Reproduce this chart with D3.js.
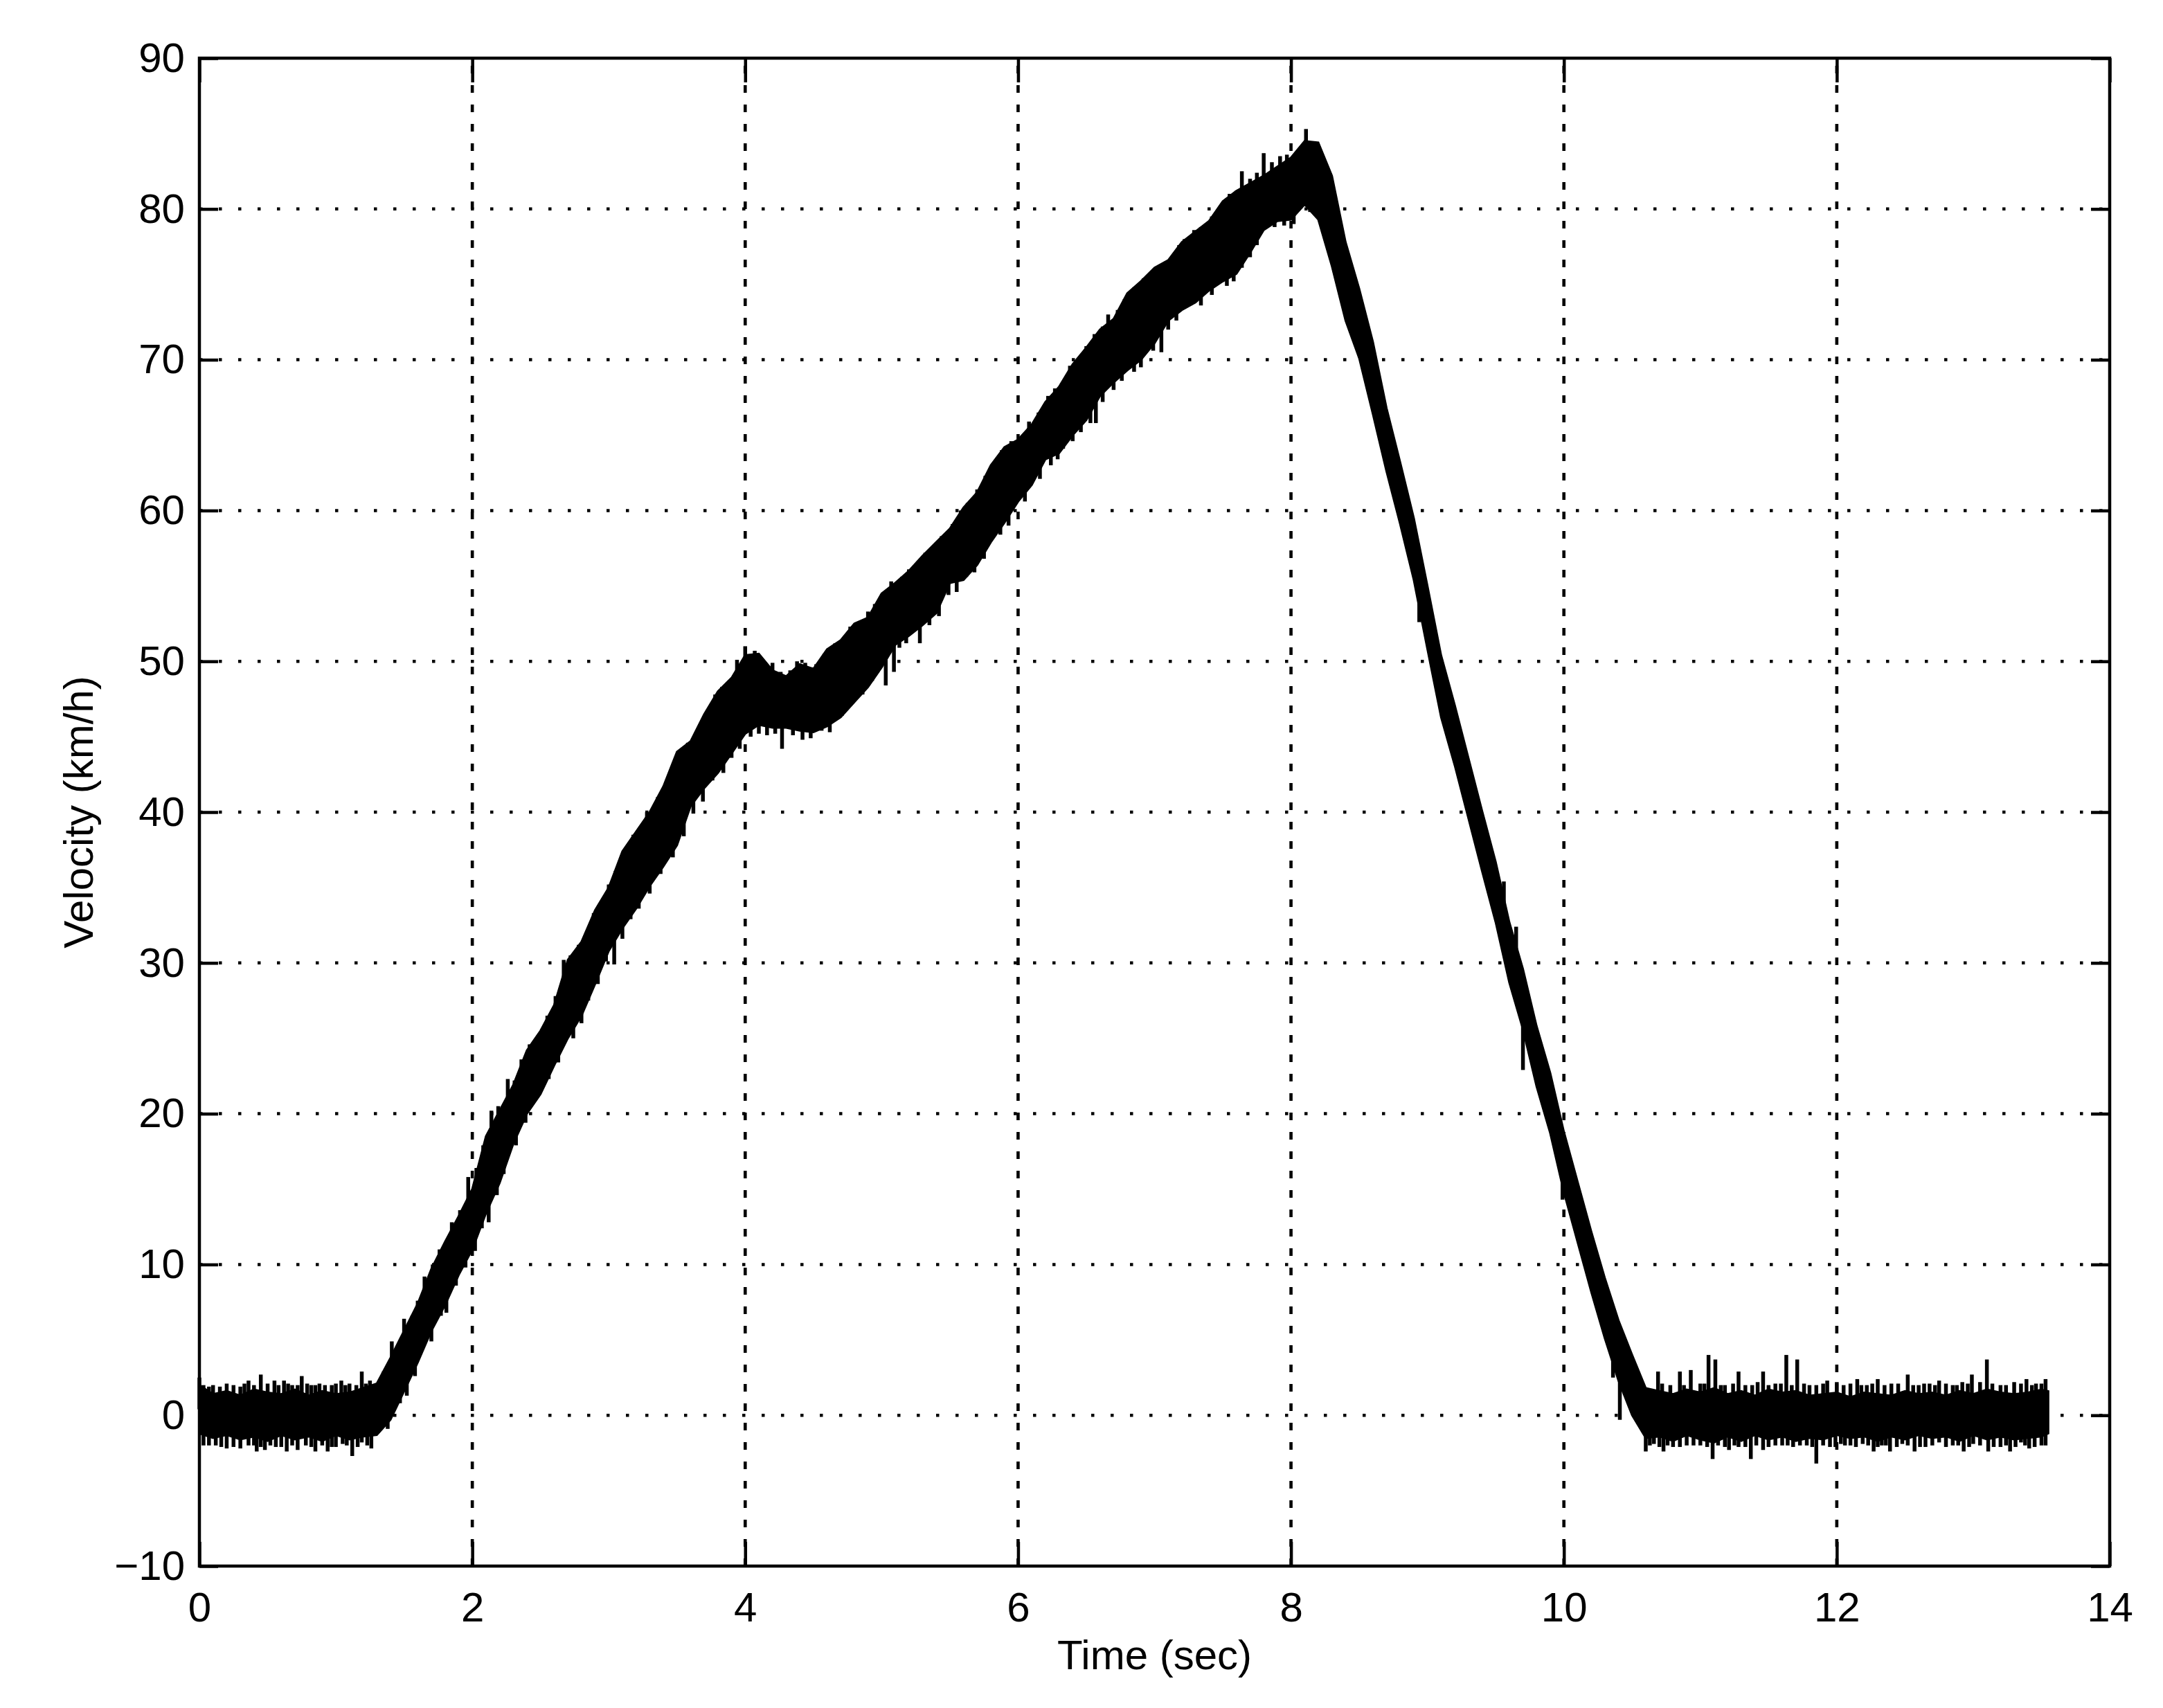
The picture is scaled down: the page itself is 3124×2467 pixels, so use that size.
<!DOCTYPE html>
<html>
<head>
<meta charset="utf-8">
<script src="https://cdn.jsdelivr.net/npm/d3@7"></script>
<style>
  html, body { margin: 0; padding: 0; background: #ffffff; }
  svg { display: block; }
  text { font-family: "Liberation Sans", Arial, Helvetica, sans-serif; fill: #000; }
</style>
</head>
<body>
<svg id="chart" width="3124" height="2467"></svg>
<script>
// ---- Data ----
const xTicks = [0, 2, 4, 6, 8, 10, 12, 14];
const yTicks = [-10, 0, 10, 20, 30, 40, 50, 60, 70, 80, 90];
const xLabel = "Time (sec)";
const yLabel = "Velocity (km/h)";

// sample times (s) of the noisy velocity band
const timeSec = [
  0.0, 0.1, 0.2, 0.3, 0.4, 0.5, 0.6, 0.7, 0.8, 0.9,
  1.0, 1.1, 1.2, 1.3, 1.4, 1.5, 1.6, 1.7, 1.8, 1.9,
  2.0, 2.1, 2.2, 2.3, 2.4, 2.5, 2.6, 2.7, 2.8, 2.9,
  3.0, 3.1, 3.2, 3.3, 3.4, 3.5, 3.6, 3.7, 3.8, 3.9,
  4.0, 4.1, 4.2, 4.3, 4.4, 4.5, 4.6, 4.7, 4.8, 4.9,
  5.0, 5.1, 5.2, 5.3, 5.4, 5.5, 5.6, 5.7, 5.8, 5.9,
  6.0, 6.1, 6.2, 6.3, 6.4, 6.5, 6.6, 6.7, 6.8, 6.9,
  7.0, 7.1, 7.2, 7.3, 7.4, 7.5, 7.6, 7.7, 7.8, 7.9,
  8.0, 8.1, 8.2, 8.3, 8.4, 8.5, 8.6, 8.7, 8.8, 8.9,
  9.0, 9.1, 9.2, 9.3, 9.4, 9.5, 9.6, 9.7, 9.8, 9.9,
  10.0, 10.1, 10.2, 10.3, 10.4, 10.5, 10.6, 10.7, 10.8, 10.9,
  11.0, 11.1, 11.2, 11.3, 11.4, 11.5, 11.6, 11.7, 11.8, 11.9,
  12.0, 12.1, 12.2, 12.3, 12.4, 12.5, 12.6, 12.7, 12.8, 12.9,
  13.0, 13.1, 13.2, 13.3, 13.4, 13.5, 13.55
];
// lower edge of the dense noise band (km/h)
const velLow = [
  -1.2, -1.5, -1.3, -1.6, -1.4, -1.7, -1.3, -1.6, -1.4, -1.7,
  -1.3, -1.6, -1.4, -1.3, -0.3, 1.6, 3.5, 5.6, 7.3, 9.3,
  11.0, 13.4, 15.4, 18.0, 20.0, 21.3, 23.2, 25.0, 26.5, 28.6,
  30.8, 32.3, 33.6, 35.1, 36.4, 37.8, 40.4, 41.6, 42.6, 43.9,
  45.2, 45.8, 45.6, 45.6, 45.4, 45.3, 45.7, 46.3, 47.3, 48.3,
  49.6, 51.1, 51.7, 52.4, 53.2, 55.2, 55.4, 56.4, 57.9, 59.2,
  60.6, 61.7, 63.4, 63.8, 65.0, 66.0, 67.6, 68.5, 69.3, 70.0,
  71.1, 72.6, 73.3, 73.8, 74.6, 75.2, 75.7, 77.1, 78.6, 79.2,
  79.3, 80.3, 79.3, 76.2, 72.6, 70.1, 66.4, 62.6, 59.1, 55.4,
  50.8, 46.3, 43.1, 39.6, 36.1, 32.7, 28.7, 25.6, 21.8, 18.7,
  14.8, 11.5, 8.2, 5.1, 2.3, 0.0, -1.5, -1.4, -1.7, -1.3,
  -1.6, -1.8, -1.4, -1.7, -1.3, -1.6, -1.4, -1.7, -1.5, -1.6,
  -1.3, -1.5, -1.4, -1.7, -1.4, -1.6, -1.3, -1.5, -1.4, -1.7,
  -1.3, -1.6, -1.4, -1.6, -1.5, -1.4, -1.2
];
// upper edge of the dense noise band (km/h)
const velHigh = [
  2.0, 1.4, 1.6, 1.3, 1.7, 1.5, 1.4, 1.7, 1.3, 1.6,
  1.4, 1.5, 1.8, 2.1, 3.8, 5.6, 7.4, 9.7, 11.5, 13.2,
  15.0, 18.5, 20.2, 21.9, 24.2, 25.5, 27.2, 30.2, 31.4, 33.5,
  35.0, 37.4, 38.7, 40.0, 41.7, 44.0, 44.7, 46.5, 48.0, 48.9,
  50.4, 50.5, 49.4, 49.0, 49.8, 49.5, 50.8, 51.4, 52.5, 52.9,
  54.5, 55.2, 56.0, 57.0, 57.9, 58.8, 60.2, 61.2, 63.0, 64.2,
  64.7, 65.7, 67.2, 68.2, 69.7, 70.8, 72.0, 72.7, 74.4, 75.2,
  76.1, 76.6, 77.8, 78.5, 79.2, 80.5, 81.2, 81.7, 82.2, 82.8,
  83.4, 84.5, 84.4, 82.2, 77.8, 74.7, 71.2, 66.8, 63.2, 59.5,
  55.0, 50.4, 47.1, 43.6, 40.1, 36.7, 32.7, 29.6, 25.8, 22.7,
  18.8, 15.5, 12.2, 9.1, 6.3, 4.0, 1.8, 1.6, 1.4, 1.7,
  1.5, 1.8, 1.4, 1.6, 1.3, 1.7, 1.5, 1.6, 1.3, 1.4,
  1.5, 1.2, 1.5, 1.4, 1.3, 1.6, 1.4, 1.5, 1.3, 1.6,
  1.4, 1.7, 1.5, 1.4, 1.5, 1.7, 1.6
];
// isolated noise spikes sticking out of the band: [time (s), tip velocity (km/h)]
const spikesFlatStart = [
  [0.0, 2.5], [0.03, 2.0], [0.07, 1.9], [0.1, 2.0], [0.15, 1.9], [0.2, 2.1], [0.25, 2.0], [0.3, 1.9],
  [0.33, 2.1], [0.36, 2.3], [0.4, 2.0], [0.45, 2.7], [0.5, 2.1], [0.55, 2.3], [0.58, 2.0], [0.62, 2.3],
  [0.65, 2.1], [0.68, 2.0], [0.72, 2.0], [0.75, 2.6], [0.79, 2.1], [0.82, 2.0], [0.85, 2.0], [0.88, 2.1],
  [0.92, 2.0], [0.97, 2.0], [1.0, 2.1], [1.04, 2.3], [1.07, 2.0], [1.1, 2.1], [1.15, 2.0], [1.19, 2.9],
  [1.22, 2.1], [1.25, 2.3],
  [0.03, -2.0], [0.07, -2.0], [0.12, -2.0], [0.16, -2.1], [0.2, -2.2], [0.25, -2.1], [0.3, -2.2],
  [0.36, -2.0], [0.4, -2.0], [0.42, -2.4], [0.45, -2.1], [0.48, -2.3], [0.52, -2.0], [0.56, -2.1],
  [0.6, -2.1], [0.64, -2.4], [0.68, -2.0], [0.72, -2.3], [0.78, -2.0], [0.82, -2.1], [0.85, -2.4],
  [0.9, -2.0], [0.94, -2.4], [0.97, -2.1], [1.0, -2.1], [1.05, -1.9], [1.08, -2.0], [1.12, -2.7],
  [1.16, -2.1], [1.19, -1.8], [1.23, -2.0], [1.26, -2.2]
];
const spikesRise = [
  [1.35, 2.9], [1.41, 4.9], [1.45, 4.6], [1.5, 6.4], [1.56, 6.6], [1.6, 7.6], [1.65, 9.2], [1.71, 10.0],
  [1.76, 11.0], [1.85, 12.8], [1.91, 13.6], [1.97, 15.8], [2.03, 16.4], [2.08, 17.9], [2.14, 20.2],
  [2.19, 20.5], [2.26, 22.3], [2.31, 22.2], [2.36, 23.6], [2.42, 24.6], [2.55, 26.5], [2.61, 27.8],
  [2.67, 30.2], [2.72, 30.5], [2.78, 31.2], [2.89, 33.3], [2.94, 33.9], [3.0, 35.2], [3.05, 36.1],
  [3.12, 37.5], [3.18, 38.5], [3.28, 40.0], [3.36, 41.0], [3.43, 42.2], [3.53, 44.1], [3.58, 44.6],
  [3.66, 45.6], [3.78, 47.8], [3.83, 48.3], [3.87, 48.4], [3.94, 50.1], [4.0, 51.0],
  [1.38, -0.9], [1.47, 0.8], [1.52, 1.3], [1.58, 2.6], [1.7, 4.9], [1.77, 6.6], [1.81, 6.8], [1.88, 8.6],
  [1.95, 9.8], [2.02, 10.9], [2.07, 12.4], [2.12, 12.8], [2.18, 14.6], [2.23, 16.0], [2.32, 17.9],
  [2.39, 19.4], [2.56, 22.3], [2.63, 23.4], [2.74, 25.0], [2.8, 26.0], [2.85, 27.5], [2.92, 28.6],
  [2.98, 30.1], [3.04, 29.9], [3.1, 31.6], [3.16, 32.9], [3.22, 33.6], [3.3, 34.6], [3.38, 35.9],
  [3.47, 37.0], [3.55, 38.4], [3.62, 39.9], [3.69, 40.7], [3.76, 42.1], [3.84, 42.6], [3.9, 43.6], [3.96, 44.2]
];
const spikesPlateau = [
  [4.07, 50.7], [4.13, 50.0], [4.2, 49.9], [4.26, 49.3], [4.33, 49.4], [4.38, 50.0], [4.44, 49.9],
  [4.49, 49.6], [4.52, 49.8], [4.58, 50.5], [4.66, 51.2], [4.77, 52.3], [4.83, 52.2],
  [4.04, 45.0], [4.1, 45.2], [4.16, 45.1], [4.22, 45.2], [4.27, 44.2], [4.35, 45.1], [4.42, 44.8],
  [4.48, 44.9], [4.56, 45.4], [4.62, 45.3], [4.71, 46.4]
];
const spikesClimb = [
  [4.9, 53.3], [4.95, 53.8], [5.0, 54.3], [5.07, 55.3], [5.15, 55.6], [5.2, 56.1], [5.26, 56.3],
  [5.32, 57.2], [5.37, 57.4], [5.44, 58.3], [5.52, 59.1], [5.58, 60.0], [5.63, 60.5], [5.7, 61.4],
  [5.76, 62.3], [5.88, 64.0], [5.95, 64.6], [6.03, 64.8], [6.08, 65.9], [6.15, 66.5], [6.22, 67.6],
  [6.27, 68.1], [6.32, 68.4], [6.38, 69.6], [6.44, 70.0], [6.5, 70.9], [6.56, 71.7], [6.62, 72.2],
  [6.66, 73.0], [6.73, 73.3], [6.78, 74.0], [6.85, 74.8], [6.92, 75.4], [6.98, 75.8], [7.04, 76.3],
  [7.12, 76.6], [7.18, 77.6], [7.22, 78.0], [7.29, 78.6], [7.34, 78.8], [7.38, 78.9], [7.42, 79.5],
  [7.46, 79.2], [7.51, 80.4], [7.55, 81.0], [7.6, 81.2], [7.64, 82.5], [7.7, 82.0], [7.75, 82.4],
  [7.8, 83.7], [7.86, 83.1], [7.92, 83.5], [7.97, 83.6], [8.05, 83.9], [8.11, 85.3],
  [4.86, 47.8], [4.93, 48.7], [5.03, 48.4], [5.09, 49.3], [5.13, 50.9], [5.18, 51.2], [5.28, 51.2],
  [5.35, 52.4], [5.42, 53.0], [5.49, 54.4], [5.55, 54.6], [5.62, 55.6], [5.68, 55.9], [5.75, 56.8],
  [5.82, 58.3], [5.87, 58.4], [5.93, 59.0], [6.05, 60.6], [6.1, 61.8], [6.16, 62.1], [6.24, 63.0],
  [6.29, 63.4], [6.33, 64.1], [6.4, 64.6], [6.46, 65.2], [6.53, 65.8], [6.57, 65.8], [6.62, 67.2],
  [6.7, 68.0], [6.76, 68.6], [6.79, 69.3], [6.85, 69.2], [6.9, 69.5], [6.99, 70.6], [7.05, 70.5],
  [7.1, 72.0], [7.16, 72.6], [7.27, 73.8], [7.34, 73.6], [7.42, 74.3], [7.53, 74.9], [7.58, 75.2],
  [7.64, 76.1], [7.7, 76.8], [7.75, 77.6], [7.81, 78.7], [7.88, 78.8], [7.95, 78.9], [8.02, 79.0],
  [8.08, 80.7], [8.14, 79.8]
];
const spikesFall = [
  [8.94, 52.6], [9.56, 35.4], [9.65, 32.4], [9.7, 22.9], [9.99, 14.3], [10.36, 2.5], [10.41, -0.3]
];
const spikesFlatEnd = [
  [10.69, 2.9], [10.72, 2.1], [10.78, 2.0], [10.85, 2.9], [10.88, 2.0], [10.93, 3.0], [11.0, 2.1],
  [11.03, 2.1], [11.06, 4.0], [11.11, 3.7], [11.15, 2.0], [11.18, 2.0], [11.24, 2.1], [11.28, 2.9],
  [11.33, 2.0], [11.38, 2.0], [11.42, 2.2], [11.46, 2.9], [11.5, 2.0], [11.55, 2.1], [11.59, 2.1],
  [11.63, 4.0], [11.67, 2.0], [11.71, 3.7], [11.76, 2.1], [11.8, 2.0], [11.85, 2.0], [11.9, 2.1],
  [11.93, 2.3], [12.0, 2.2], [12.05, 2.0], [12.1, 2.1], [12.15, 2.4], [12.18, 2.0], [12.22, 2.0],
  [12.26, 2.1], [12.3, 2.4], [12.35, 2.0], [12.4, 2.1], [12.45, 2.1], [12.52, 2.7], [12.56, 2.0],
  [12.6, 2.0], [12.64, 2.1], [12.68, 2.1], [12.72, 2.0], [12.75, 2.3], [12.8, 2.1], [12.85, 2.0],
  [12.88, 2.0], [12.92, 2.2], [12.96, 2.1], [12.99, 2.7], [13.05, 2.2], [13.1, 3.7], [13.14, 2.1],
  [13.2, 2.0], [13.24, 2.0], [13.3, 2.2], [13.35, 2.1], [13.39, 2.4], [13.43, 2.0], [13.46, 2.1],
  [13.5, 2.1], [13.53, 2.4],
  [10.6, -2.4], [10.63, -2.0], [10.66, -1.9], [10.7, -2.1], [10.73, -2.4], [10.76, -2.0], [10.8, -2.1],
  [10.85, -2.1], [10.9, -2.0], [10.95, -2.0], [11.0, -2.0], [11.05, -2.1], [11.09, -2.9], [11.13, -2.0],
  [11.18, -2.1], [11.21, -2.3], [11.25, -2.0], [11.28, -2.1], [11.33, -2.1], [11.37, -2.9], [11.41, -2.0],
  [11.46, -2.3], [11.5, -2.1], [11.55, -2.0], [11.6, -2.0], [11.64, -2.0], [11.68, -2.1], [11.73, -2.0],
  [11.78, -2.0], [11.82, -2.1], [11.85, -3.2], [11.9, -2.0], [11.95, -2.1], [11.99, -2.1], [12.03, -1.9],
  [12.06, -2.0], [12.1, -2.0], [12.14, -2.1], [12.19, -1.9], [12.23, -2.0], [12.27, -2.4], [12.3, -2.1],
  [12.33, -2.0], [12.36, -2.0], [12.39, -2.4], [12.44, -2.1], [12.48, -1.9], [12.52, -2.0], [12.57, -2.4],
  [12.61, -2.1], [12.65, -2.1], [12.7, -2.0], [12.75, -1.8], [12.8, -2.1], [12.85, -2.0], [12.89, -2.0],
  [12.93, -2.4], [12.97, -2.1], [13.0, -1.9], [13.05, -2.0], [13.11, -2.4], [13.15, -2.1], [13.2, -2.1],
  [13.24, -2.0], [13.27, -2.4], [13.31, -2.1], [13.35, -1.8], [13.38, -2.0], [13.41, -2.2], [13.45, -2.1],
  [13.5, -2.0], [13.53, -2.0]
];
const spikes = [].concat(spikesFlatStart, spikesRise, spikesPlateau, spikesClimb, spikesFall, spikesFlatEnd);

// ---- Layout ----
const W = 3124, H = 2467;
const plot = { left: 288, right: 3047, top: 84, bottom: 2262 };
const svg = d3.select("#chart");
svg.append("rect").attr("x", 0).attr("y", 0).attr("width", W).attr("height", H).attr("fill", "#fff");

const x = d3.scaleLinear().domain([0, 14]).range([plot.left, plot.right]);
const y = d3.scaleLinear().domain([-10, 90]).range([plot.bottom, plot.top]);

const fmt = d => (d < 0 ? "\u2212" + Math.abs(d) : String(d));

// ---- Grid ----
const grid = svg.append("g");
grid.selectAll("line.hg")
  .data(yTicks.filter(v => v > -10 && v < 90))
  .join("line")
  .attr("x1", plot.left).attr("x2", plot.right)
  .attr("y1", d => y(d)).attr("y2", d => y(d))
  .attr("stroke", "#000").attr("stroke-width", 4.5)
  .attr("stroke-dasharray", "4.5,23.5");
grid.selectAll("line.vg")
  .data(xTicks.filter(v => v > 0 && v < 14))
  .join("line")
  .attr("x1", d => x(d)).attr("x2", d => x(d))
  .attr("y1", plot.bottom).attr("y2", plot.top)
  .attr("stroke", "#000").attr("stroke-width", 4.6)
  .attr("stroke-dasharray", "11,17");

// ---- Velocity band ----
const idx = d3.range(timeSec.length);
const band = d3.area()
  .x(i => x(timeSec[i]))
  .y0(i => y(velLow[i]))
  .y1(i => y(velHigh[i]))
  .curve(d3.curveLinear);
svg.append("path")
  .attr("d", band(idx))
  .attr("fill", "#000")
  .attr("stroke", "#000")
  .attr("stroke-width", 3)
  .attr("stroke-linejoin", "miter");

function centerAt(t) {
  let i = d3.bisectLeft(timeSec, t);
  if (i <= 0) return (velLow[0] + velHigh[0]) / 2;
  if (i >= timeSec.length) i = timeSec.length - 1;
  const t0 = timeSec[i - 1], t1 = timeSec[i];
  const c0 = (velLow[i - 1] + velHigh[i - 1]) / 2, c1 = (velLow[i] + velHigh[i]) / 2;
  const f = t1 === t0 ? 0 : (t - t0) / (t1 - t0);
  return c0 + (c1 - c0) * f;
}
svg.append("g").selectAll("line")
  .data(spikes)
  .join("line")
  .attr("x1", d => x(d[0])).attr("x2", d => x(d[0]))
  .attr("y1", d => y(centerAt(d[0])))
  .attr("y2", d => y(d[1]))
  .attr("stroke", "#000").attr("stroke-width", 5.5)
  .attr("stroke-linecap", "butt");

// ---- Axes (ticks inward on all sides) ----
function styleAxis(g) {
  g.select(".domain").remove();
  g.selectAll(".tick line").attr("stroke", "#000").attr("stroke-width", 4.5);
  g.selectAll(".tick text").attr("font-size", 60).attr("fill", "#000")
    .attr("font-family", "'Liberation Sans', Arial, Helvetica, sans-serif");
}
svg.append("g").attr("transform", `translate(${plot.left},0)`)
  .call(d3.axisLeft(y).tickValues(yTicks).tickFormat(fmt).tickSizeInner(-27).tickSizeOuter(0).tickPadding(21))
  .call(styleAxis);
svg.append("g").attr("transform", `translate(${plot.right},0)`)
  .call(d3.axisRight(y).tickValues(yTicks).tickFormat("").tickSizeInner(-27).tickSizeOuter(0))
  .call(styleAxis);
svg.append("g").attr("transform", `translate(0,${plot.bottom})`)
  .call(d3.axisBottom(x).tickValues(xTicks).tickFormat(fmt).tickSizeInner(-35).tickSizeOuter(0).tickPadding(37))
  .call(styleAxis);
svg.append("g").attr("transform", `translate(0,${plot.top})`)
  .call(d3.axisTop(x).tickValues(xTicks).tickFormat("").tickSizeInner(-35).tickSizeOuter(0))
  .call(styleAxis);

// ---- Box ----
svg.append("rect")
  .attr("x", plot.left).attr("y", plot.top)
  .attr("width", plot.right - plot.left).attr("height", plot.bottom - plot.top)
  .attr("fill", "none").attr("stroke", "#000").attr("stroke-width", 4.5);

// ---- Axis labels ----
svg.append("text")
  .attr("x", (plot.left + plot.right) / 2).attr("y", 2411)
  .attr("text-anchor", "middle").attr("font-size", 60)
  .text(xLabel);
svg.append("text")
  .attr("transform", `translate(134,${(plot.top + plot.bottom) / 2}) rotate(-90)`)
  .attr("text-anchor", "middle").attr("font-size", 60)
  .text(yLabel);
</script>
</body>
</html>
